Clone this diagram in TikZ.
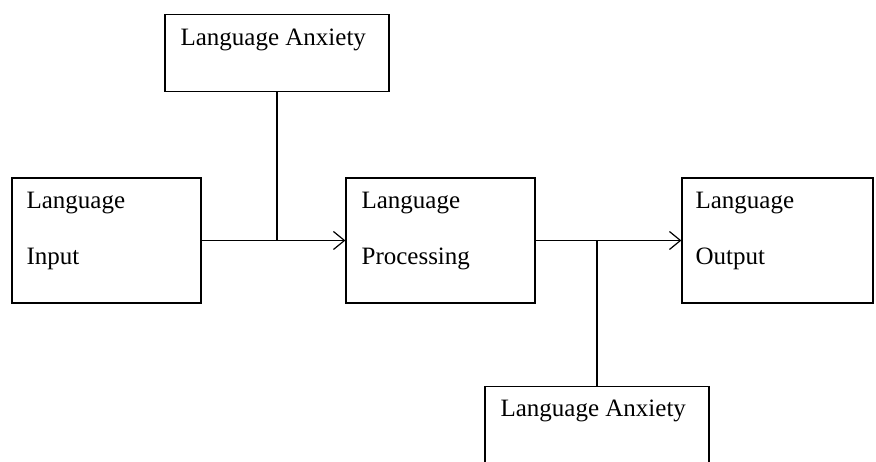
\documentclass[tikz,border=0pt]{standalone}
\usepackage{fontspec}
\setmainfont{Liberation Serif}
\usepackage{tikz}
\usetikzlibrary{arrows.meta,calc,positioning}

\begin{document}
\begin{tikzpicture}[
    x=1pt,y=-1pt,
    stagebox/.style={draw,line width=1.2pt,inner sep=0pt,minimum width=189pt,minimum height=125pt},
    anxbox/.style={draw,line width=1.2pt,inner sep=0pt,minimum width=224pt},
    boxtext/.style={inner sep=0pt,anchor=base west,font=\fontsize{25}{28}\selectfont},
    flow/.style={line width=1.2pt,-{Straight Barb[length=11pt,width=18pt,line width=1.2pt]}},
    link/.style={line width=1.2pt}
  ]
    \clip (0,0) rectangle (876,462);
    \fill[white] (0,0) rectangle (876,462);

    % the three stages
    \node[stagebox] (input) at (106.5,240.5) {};
    \node[stagebox] (proc) at (440.5,240.5) {};
    \node[stagebox,minimum width=191pt] (output) at (777.5,240.5) {};
    % anxiety above and below
    \node[anxbox,minimum height=77pt,anchor=south] (anxtop) at (277,92) {};
    \node[anxbox,minimum height=100pt,anchor=north] (anxbot) at (597,386) {};

    \node[boxtext] (inputa) at ($(input.north west)+(15,31)$) {Language};
    \node[boxtext] (inputb) at ($(input.north west)+(15,87)$) {Input};
    \node[boxtext] (proca) at ($(proc.north west)+(16,31)$) {Language};
    \node[boxtext] (procb) at ($(proc.north west)+(16,87)$) {Processing};
    \node[boxtext] (outputa) at ($(output.north west)+(14,31)$) {Language};
    \node[boxtext] (outputb) at ($(output.north west)+(14,87)$) {Output};
    \node[boxtext] (anxtopa) at ($(anxtop.north west)+(16,32)$) {Language Anxiety};
    \node[boxtext] (anxbota) at ($(anxbot.north west)+(16,31)$) {Language Anxiety};

    \coordinate (jointop) at (anxtop.south |- input.east);
    \coordinate (joinbot) at (anxbot.north |- proc.east);

    \draw[flow] (input.east) -- (proc.west);
    \draw[link] (anxtop.south) -- (jointop);
    \draw[flow] (proc.east) -- (output.west);
    \draw[link] (joinbot) -- (anxbot.north);
  \end{tikzpicture}
\end{document}
